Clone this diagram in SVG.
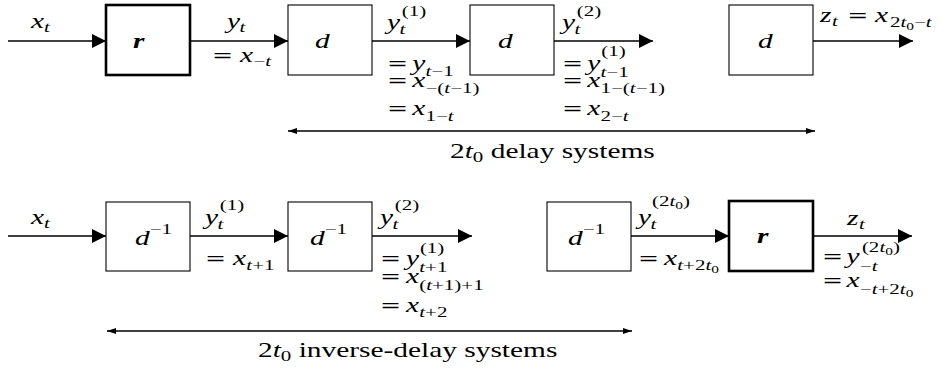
<svg xmlns="http://www.w3.org/2000/svg" width="949" height="370" viewBox="0 0 949 370">
<style>
.m{font-family:"Liberation Serif","DejaVu Serif",serif;font-style:italic;font-size:21px;fill:#000}
.u{font-style:normal}
.s{font-size:15px}
.ss{font-size:11px}
.b{font-weight:bold}
.eq{font-family:"DejaVu Serif",serif;font-style:normal;font-size:18px}
.box{fill:#fff;stroke:#000;stroke-width:1.1}
.tb{fill:#fff;stroke:#000;stroke-width:2.6}
.w{stroke:#000;stroke-width:1.3;fill:none}
</style>
<defs>
<marker id="ah" markerUnits="userSpaceOnUse" markerWidth="15" markerHeight="15" refX="14" refY="7.5" orient="auto"><path d="M0,0.5 L14,7.5 L0,14.5 z" fill="#000"/></marker>
<marker id="sa" markerUnits="userSpaceOnUse" markerWidth="10" markerHeight="8" refX="9" refY="4" orient="auto-start-reverse"><path d="M0,1 L9,4 L0,7 z" fill="#000"/></marker>
</defs>
<rect width="949" height="370" fill="#fff"/>

<g id="connectors">
<line class="w" x1="8" y1="41" x2="106" y2="41" marker-end="url(#ah)"/>
<line class="w" x1="190" y1="41" x2="288" y2="41" marker-end="url(#ah)"/>
<line class="w" x1="372" y1="41" x2="470" y2="41" marker-end="url(#ah)"/>
<line class="w" x1="554" y1="41" x2="653" y2="41" marker-end="url(#ah)"/>
<line class="w" x1="813" y1="41" x2="913" y2="41" marker-end="url(#ah)"/>
<line class="w" x1="8" y1="236" x2="106" y2="236" marker-end="url(#ah)"/>
<line class="w" x1="190" y1="236" x2="288" y2="236" marker-end="url(#ah)"/>
<line class="w" x1="372" y1="236" x2="472" y2="236" marker-end="url(#ah)"/>
<line class="w" x1="631" y1="236" x2="729" y2="236" marker-end="url(#ah)"/>
<line class="w" x1="813" y1="236" x2="912" y2="236" marker-end="url(#ah)"/>
<line class="w" x1="288" y1="131" x2="815" y2="131" marker-start="url(#sa)" marker-end="url(#sa)"/>
<line class="w" x1="107" y1="331" x2="632" y2="331" marker-start="url(#sa)" marker-end="url(#sa)"/>
</g>

<g id="n_r1"><rect class="tb" x="106" y="5" width="84" height="70"/><text class="m b" transform="translate(133,48) scale(1.4,1)">r</text></g>
<g id="n_d1"><rect class="box" x="288" y="5" width="84" height="70"/><text class="m" transform="translate(315,48) scale(1.4,1)">d</text></g>
<g id="n_d2"><rect class="box" x="470" y="5" width="84" height="70"/><text class="m" transform="translate(498,48) scale(1.4,1)">d</text></g>
<g id="n_d3"><rect class="box" x="729" y="5" width="84" height="70"/><text class="m" transform="translate(758,48) scale(1.4,1)">d</text></g>
<g id="n_di1"><rect class="box" x="106" y="202" width="84" height="69"/><text class="m" transform="translate(135,245) scale(1.4,1)">d<tspan class="s u" x="10.5" y="-11">−1</tspan></text></g>
<g id="n_di2"><rect class="box" x="288" y="202" width="84" height="69"/><text class="m" transform="translate(310,245) scale(1.4,1)">d<tspan class="s u" x="10.5" y="-11">−1</tspan></text></g>
<g id="n_di3"><rect class="box" x="547" y="202" width="84" height="69"/><text class="m" transform="translate(568,245) scale(1.4,1)">d<tspan class="s u" x="10.5" y="-11">−1</tspan></text></g>
<g id="n_r2"><rect class="tb" x="729" y="201" width="84" height="70"/><text class="m b" transform="translate(757,243) scale(1.4,1)">r</text></g>

<g id="labels">
<text class="m" transform="translate(31,28) scale(1.4,1)">x<tspan class="s" x="9.3" y="4">t</tspan></text>
<text class="m" transform="translate(227,28) scale(1.4,1)">y<tspan class="s" x="9" y="4">t</tspan></text>
<text class="m" transform="translate(212,62) scale(1.4,1)"><tspan class="eq">=</tspan><tspan x="20" y="0">x</tspan><tspan class="s u" x="29.5" y="4">−</tspan><tspan class="s" y="4">t</tspan></text>

<text class="m" transform="translate(387,29) scale(1.4,1)">y<tspan class="s" x="9" y="4.5">t</tspan><tspan class="s u" x="10.5" y="-13">(1)</tspan></text>
<text class="m" transform="translate(387,70) scale(1.4,1)"><tspan class="eq">=</tspan><tspan x="18" y="0">y</tspan><tspan class="s" x="27.5" y="6">t</tspan><tspan class="s u" y="6">−1</tspan></text>
<text class="m" transform="translate(387,87) scale(1.4,1)"><tspan class="eq">=</tspan><tspan x="18" y="0">x</tspan><tspan class="s u" x="27.5" y="6">−(</tspan><tspan class="s" y="6">t</tspan><tspan class="s u" y="6">−1)</tspan></text>
<text class="m" transform="translate(387,115) scale(1.4,1)"><tspan class="eq">=</tspan><tspan x="18" y="0">x</tspan><tspan class="s u" x="27.5" y="6">1−</tspan><tspan class="s" y="6">t</tspan></text>

<text class="m" transform="translate(562,29) scale(1.4,1)">y<tspan class="s" x="9" y="4.5">t</tspan><tspan class="s u" x="10.5" y="-13">(2)</tspan></text>
<text class="m" transform="translate(562,70) scale(1.4,1)"><tspan class="eq">=</tspan><tspan x="18" y="0">y</tspan><tspan class="s" x="27.5" y="6.5">t</tspan><tspan class="s u" y="6.5">−1</tspan><tspan class="s u" x="28" y="-14">(1)</tspan></text>
<text class="m" transform="translate(562,87) scale(1.4,1)"><tspan class="eq">=</tspan><tspan x="18" y="0">x</tspan><tspan class="s u" x="27.5" y="6">1−(</tspan><tspan class="s" y="6">t</tspan><tspan class="s u" y="6">−1)</tspan></text>
<text class="m" transform="translate(562,115) scale(1.4,1)"><tspan class="eq">=</tspan><tspan x="18" y="0">x</tspan><tspan class="s u" x="27.5" y="6">2−</tspan><tspan class="s" y="6">t</tspan></text>

<text class="m" transform="translate(820,22) scale(1.4,1)">z<tspan class="s" x="8.6" y="4">t</tspan><tspan class="eq" x="19.5" y="0">=</tspan><tspan x="39.3" y="0">x</tspan><tspan class="s u" x="50" y="5">2</tspan><tspan class="s" y="5">t</tspan><tspan class="ss u" y="8">0</tspan><tspan class="s u" y="5">−</tspan><tspan class="s" y="5">t</tspan></text>

<text class="m u" transform="translate(450,158) scale(1.4,1)">2<tspan class="m" y="0">t</tspan><tspan class="s u" y="3.5">0</tspan><tspan class="u" y="0"> delay systems</tspan></text>

<text class="m" transform="translate(31,224) scale(1.4,1)">x<tspan class="s" x="9.3" y="4">t</tspan></text>
<text class="m" transform="translate(205,224) scale(1.4,1)">y<tspan class="s" x="9" y="5">t</tspan><tspan class="s u" x="10.5" y="-14.5">(1)</tspan></text>
<text class="m" transform="translate(205,265) scale(1.4,1)"><tspan class="eq">=</tspan><tspan x="20" y="0">x</tspan><tspan class="s" x="29.5" y="4.5">t</tspan><tspan class="s u" y="4.5">+1</tspan></text>

<text class="m" transform="translate(380,224) scale(1.4,1)">y<tspan class="s" x="9" y="5">t</tspan><tspan class="s u" x="10.5" y="-14.5">(2)</tspan></text>
<text class="m" transform="translate(380,265) scale(1.4,1)"><tspan class="eq">=</tspan><tspan x="18.5" y="0">y</tspan><tspan class="s" x="28" y="7">t</tspan><tspan class="s u" y="7">+1</tspan><tspan class="s u" x="28.5" y="-12">(1)</tspan></text>
<text class="m" transform="translate(380,283) scale(1.4,1)"><tspan class="eq">=</tspan><tspan x="18.5" y="0">x</tspan><tspan class="s u" x="28" y="7">(</tspan><tspan class="s" y="7">t</tspan><tspan class="s u" y="7">+1)+1</tspan></text>
<text class="m" transform="translate(380,312) scale(1.4,1)"><tspan class="eq">=</tspan><tspan x="18.5" y="0">x</tspan><tspan class="s" x="28" y="5">t</tspan><tspan class="s u" y="5">+2</tspan></text>

<text class="m" transform="translate(638,224) scale(1.4,1)">y<tspan class="s" x="9" y="5">t</tspan><tspan class="s u" x="10" y="-18">(2</tspan><tspan class="s" y="-18">t</tspan><tspan class="ss u" y="-15">0</tspan><tspan class="s u" y="-18">)</tspan></text>
<text class="m" transform="translate(638,265) scale(1.4,1)"><tspan class="eq">=</tspan><tspan x="18.5" y="0">x</tspan><tspan class="s" x="28" y="4.5">t</tspan><tspan class="s u" y="4.5">+2</tspan><tspan class="s" y="4.5">t</tspan><tspan class="ss u" y="7.5">0</tspan></text>

<text class="m" transform="translate(847,225) scale(1.4,1)">z<tspan class="s" x="8.6" y="4">t</tspan></text>
<text class="m" transform="translate(822,263) scale(1.4,1)"><tspan class="eq">=</tspan><tspan x="17.5" y="0">y</tspan><tspan class="s u" x="27" y="7.5">−</tspan><tspan class="s" y="7.5">t</tspan><tspan class="s u" x="28.5" y="-11">(2</tspan><tspan class="s" y="-11">t</tspan><tspan class="ss u" y="-8">0</tspan><tspan class="s u" y="-11">)</tspan></text>
<text class="m" transform="translate(822,287) scale(1.4,1)"><tspan class="eq">=</tspan><tspan x="17.5" y="0">x</tspan><tspan class="s u" x="27" y="7">−</tspan><tspan class="s" y="7">t</tspan><tspan class="s u" y="7">+2</tspan><tspan class="s" y="7">t</tspan><tspan class="ss u" y="10">0</tspan></text>

<text class="m u" transform="translate(258,357) scale(1.4,1)">2<tspan class="m" y="0">t</tspan><tspan class="s u" y="3.5">0</tspan><tspan class="u" y="0"> inverse-delay systems</tspan></text>
</g>
</svg>
